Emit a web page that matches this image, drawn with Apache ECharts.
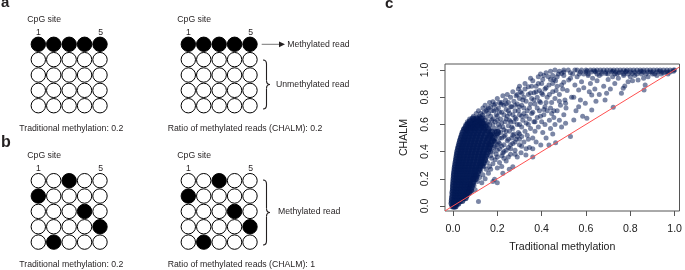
<!DOCTYPE html>
<html>
<head>
<meta charset="utf-8">
<script src="https://cdn.jsdelivr.net/npm/echarts@6/dist/echarts.min.js"></script>
<style>
html,body{margin:0;padding:0;background:#fff;}
#chalmChart{width:685px;height:270px;}
</style>
</head>
<body>
<div id="chalmChart"></div>
<script>
// rows = reads, columns = CpG sites, 1 = methylated
var readsA = [[1,1,1,1,1],[0,0,0,0,0],[0,0,0,0,0],[0,0,0,0,0],[0,0,0,0,0]];
var readsB = [[0,0,1,0,0],[1,0,0,0,0],[0,0,0,1,0],[0,0,0,0,1],[0,1,0,0,0]];
var cpgLabels = ['1','5'];
var tickValues = [0,0.2,0.4,0.6,0.8,1.0];

// dense cloud near the origin: [CHALM, [traditional methylation values]]
var coreRows = [
	[0.00,[0.000,0.005,0.010]],
	[0.02,[-0.004,0.005,0.015,0.022]],
	[0.04,[-0.003,0.008,0.018,0.030,0.040]],
	[0.06,[-0.002,0.010,0.022,0.034,0.046,0.055]],
	[0.08,[0.000,0.012,0.024,0.036,0.048,0.060]],
	[0.10,[0.000,0.012,0.025,0.038,0.050,0.062,0.072]],
	[0.12,[0.002,0.014,0.027,0.040,0.053,0.066,0.078]],
	[0.14,[0.002,0.015,0.028,0.041,0.055,0.068,0.082]],
	[0.16,[0.003,0.016,0.030,0.043,0.057,0.071,0.086]],
	[0.18,[0.004,0.017,0.031,0.045,0.059,0.074,0.090]],
	[0.20,[0.005,0.018,0.032,0.046,0.061,0.076,0.092,0.100]],
	[0.22,[0.006,0.019,0.033,0.048,0.063,0.078,0.094,0.104]],
	[0.24,[0.007,0.020,0.035,0.050,0.065,0.080,0.096,0.110]],
	[0.26,[0.009,0.022,0.037,0.052,0.067,0.083,0.099,0.114]],
	[0.28,[0.010,0.024,0.039,0.054,0.070,0.086,0.102,0.118]],
	[0.30,[0.012,0.026,0.041,0.056,0.072,0.088,0.105,0.122,0.130]],
	[0.32,[0.014,0.028,0.043,0.059,0.075,0.091,0.108,0.125,0.136]],
	[0.34,[0.016,0.030,0.045,0.061,0.077,0.094,0.111,0.128,0.142]],
	[0.36,[0.018,0.032,0.048,0.064,0.080,0.097,0.114,0.131,0.146]],
	[0.38,[0.020,0.035,0.051,0.067,0.083,0.100,0.117,0.134,0.150]],
	[0.40,[0.022,0.037,0.053,0.069,0.086,0.103,0.120,0.138,0.156]],
	[0.42,[0.025,0.040,0.056,0.072,0.089,0.106,0.124,0.142,0.160]],
	[0.44,[0.028,0.043,0.059,0.075,0.092,0.110,0.128,0.146,0.165]],
	[0.46,[0.031,0.046,0.062,0.079,0.096,0.113,0.131,0.150,0.170]],
	[0.48,[0.034,0.049,0.065,0.082,0.099,0.117,0.135,0.155,0.178]],
	[0.50,[0.038,0.053,0.069,0.086,0.103,0.121,0.140,0.160,0.185]],
	[0.52,[0.042,0.057,0.073,0.090,0.107,0.125,0.145,0.168]],
	[0.54,[0.046,0.062,0.078,0.095,0.112,0.130,0.150,0.175,0.200]],
	[0.56,[0.052,0.068,0.084,0.101,0.118,0.137,0.158]],
	[0.58,[0.060,0.076,0.092,0.109,0.126,0.145]],
	[0.60,[0.068,0.085,0.101,0.118,0.136]],
	[0.62,[0.078,0.095,0.112,0.130]],
	[0.64,[0.090,0.108,0.125]]
];

// sparser points, [traditional methylation, CHALM]
var lowReads = [
	[0.06,0.07],[0.065,0.10],[0.07,0.09],[0.075,0.13],[0.08,0.16],[0.085,0.11],[0.09,0.20],[0.095,0.15],
	[0.10,0.12],[0.105,0.23],[0.11,0.18],[0.115,0.032],[0.12,0.21],[0.125,0.26],[0.13,0.17],[0.135,0.23],
	[0.14,0.29],[0.145,0.20],[0.15,0.27],[0.155,0.32],[0.16,0.24],[0.165,0.29],[0.17,0.27],[0.1875,0.196],
	[0.20,0.17],[0.16,0.50],[0.17,0.45],[0.175,0.53],[0.18,0.40],[0.185,0.48],[0.19,0.44],[0.195,0.52],
	[0.20,0.36],[0.205,0.47],[0.21,0.42],[0.215,0.54],[0.22,0.50],[0.225,0.39],[0.23,0.45],[0.235,0.52],
	[0.24,0.33],[0.245,0.48],[0.25,0.43],[0.255,0.55],[0.26,0.38],[0.265,0.50],[0.27,0.46],[0.275,0.53],
	[0.28,0.41],[0.285,0.49],[0.29,0.36],[0.295,0.54],[0.30,0.45],[0.307,0.392],[0.31,0.51],[0.17,0.37],
	[0.18,0.31],[0.19,0.34],[0.20,0.28],[0.21,0.32],[0.22,0.29],[0.225,0.24],[0.23,0.35],[0.24,0.41],
	[0.27,0.289],[0.165,0.42],[0.175,0.35],[0.185,0.43],[0.195,0.38],[0.205,0.55],[0.20,0.45],[0.21,0.50],
	[0.18,0.18],[0.254,0.27],[0.36,0.36],[0.463,0.465],[0.53,0.51],[0.723,0.726],[0.862,0.853],
	[0.16,0.46],[0.17,0.52],[0.18,0.50],[0.19,0.47],[0.20,0.53],[0.21,0.46],[0.22,0.44],[0.23,0.51],
	[0.24,0.55],[0.25,0.49],[0.26,0.45],[0.27,0.52],[0.28,0.47],[0.29,0.51],[0.30,0.49],[0.16,0.55],
	[0.17,0.40],[0.19,0.57],[0.20,0.41],[0.22,0.37],[0.23,0.40],[0.25,0.36],[0.26,0.42],[0.28,0.38]
];
var midReads = [
	[0.05,0.57],[0.058,0.60],[0.065,0.62],[0.07,0.58],[0.075,0.64],[0.083,0.571],[0.088,0.63],[0.092,0.66],
	[0.10,0.61],[0.105,0.68],[0.11,0.64],[0.115,0.70],[0.12,0.66],[0.125,0.62],[0.133,0.669],[0.135,0.72],
	[0.14,0.69],[0.145,0.74],[0.15,0.65],[0.155,0.71],[0.16,0.68],[0.165,0.76],[0.17,0.73],[0.175,0.63],
	[0.18,0.767],[0.185,0.70],[0.19,0.75],[0.195,0.67],[0.20,0.79],[0.205,0.72],[0.21,0.76],[0.217,0.748],
	[0.22,0.69],[0.225,0.81],[0.23,0.74],[0.237,0.78],[0.24,0.71],[0.245,0.82],[0.25,0.76],[0.255,0.68],
	[0.26,0.80],[0.265,0.73],[0.27,0.84],[0.275,0.77],[0.28,0.70],[0.285,0.81],[0.29,0.75],[0.295,0.86],
	[0.30,0.79],[0.12,0.60],[0.13,0.58],[0.14,0.61],[0.15,0.59],[0.16,0.62],[0.17,0.57],[0.18,0.60],
	[0.19,0.55],[0.20,0.63],[0.21,0.58],[0.22,0.61],[0.23,0.56],[0.24,0.64],[0.25,0.59],[0.26,0.62],
	[0.27,0.57],[0.28,0.65],[0.29,0.60],[0.30,0.67],[0.31,0.58],[0.315,0.63],[0.32,0.47],[0.325,0.55],
	[0.329,0.375],[0.33,0.66],[0.335,0.52],[0.34,0.60],[0.345,0.43],[0.35,0.57],[0.355,0.68],[0.36,0.50],
	[0.365,0.62],[0.37,0.55],[0.375,0.47],[0.38,0.65],[0.385,0.58],[0.39,0.70],[0.396,0.449],[0.40,0.62],
	[0.405,0.54],[0.41,0.67],[0.415,0.60],[0.42,0.50],[0.425,0.70],[0.433,0.449],[0.435,0.63],[0.44,0.57],
	[0.445,0.68],[0.45,0.53],[0.455,0.65],[0.46,0.60],[0.47,0.70],[0.48,0.63],[0.49,0.58],[0.50,0.67],
	[0.508,0.608],[0.51,0.72],[0.30,0.53],[0.30,0.60],[0.31,0.44],[0.32,0.68],[0.33,0.42],[0.34,0.49],
	[0.36,0.42],
	[0.08,0.60],[0.09,0.58],[0.095,0.64],[0.10,0.57],[0.105,0.62],[0.11,0.59],[0.115,0.65],[0.12,0.63],
	[0.125,0.68],[0.13,0.61],[0.135,0.65],[0.14,0.57],[0.145,0.63],[0.15,0.70],[0.155,0.60],[0.06,0.56],
	[0.07,0.61],[0.16,0.72],[0.165,0.60],[0.17,0.66],[0.175,0.70],[0.18,0.64],[0.185,0.74],[0.19,0.62],
	[0.195,0.71],[0.20,0.66],[0.205,0.60],[0.21,0.69],[0.215,0.64],[0.22,0.76],[0.225,0.58],[0.23,0.67],
	[0.235,0.62],[0.24,0.75],[0.245,0.66],[0.25,0.70],[0.255,0.63],[0.26,0.73],[0.265,0.58],[0.27,0.67],
	[0.275,0.62],[0.28,0.74],[0.285,0.64],[0.29,0.82],[0.295,0.70],[0.30,0.73],[0.305,0.84],[0.31,0.66],
	[0.315,0.78],[0.32,0.72],[0.325,0.86],[0.33,0.61],[0.335,0.70],[0.34,0.82],[0.345,0.64],[0.35,0.75]
];
var highReads = [
	[0.30,0.88],[0.31,0.74],[0.311,0.829],[0.32,0.80],[0.325,0.90],[0.33,0.77],[0.34,0.877],[0.345,0.72],
	[0.35,0.83],[0.355,0.79],[0.36,0.92],[0.366,0.833],[0.37,0.75],[0.375,0.88],[0.38,0.80],[0.385,0.95],
	[0.39,0.85],[0.395,0.76],[0.40,0.90],[0.405,0.82],[0.41,0.96],[0.415,0.73],[0.42,0.87],[0.425,0.80],
	[0.433,0.89],[0.44,0.93],[0.445,0.76],[0.45,0.84],[0.455,0.93],[0.46,0.79],[0.463,0.92],[0.47,0.88],
	[0.475,0.97],[0.48,0.82],[0.485,0.74],[0.49,0.975],[0.495,0.86],[0.50,0.91],[0.505,0.78],[0.35,0.94],
	[0.395,0.97],[0.42,0.98],[0.44,0.99],[0.46,1.00],[0.508,0.755],[0.515,0.85],[0.522,0.926],[0.53,0.94],
	[0.535,0.80],[0.545,0.632],[0.545,0.80],[0.55,0.89],[0.555,0.70],[0.56,0.95],[0.567,0.853],[0.567,0.73],
	[0.575,0.78],[0.58,0.914],[0.585,0.66],[0.59,0.87],[0.597,0.755],[0.604,0.645],[0.61,0.96],[0.615,0.84],
	[0.62,0.90],[0.626,0.706],[0.626,0.816],[0.63,0.94],[0.64,0.86],[0.645,0.77],[0.65,0.92],[0.66,0.82],
	[0.67,0.97],[0.68,0.88],[0.686,0.78],[0.693,0.829],[0.70,0.93],[0.71,0.86],[0.72,0.95],[0.73,0.90],
	[0.746,0.939],[0.76,0.829],[0.768,0.865],[0.775,0.882],[0.79,0.914],[0.80,0.95],[0.81,0.92],[0.82,0.96],
	[0.835,0.926],[0.85,0.97],[0.867,0.89],[0.88,0.95],[0.90,0.97],[0.92,0.96],[0.95,0.98],[0.74,0.97],
	[0.77,0.96],[0.86,0.94],
	[0.355,0.88],[0.36,0.69],[0.365,0.78],[0.37,0.62],[0.375,0.84],[0.38,0.72],[0.385,0.90],[0.39,0.77],
	[0.395,0.66],[0.40,0.83],[0.405,0.93],[0.41,0.71],[0.415,0.86],[0.42,0.76],[0.43,0.95],[0.435,0.82],
	[0.44,0.72],[0.45,0.90],[0.455,0.70],[0.465,0.85],[0.47,0.95],[0.48,0.77],[0.49,0.89],[0.50,0.96],
	[0.45,0.96],[0.48,0.99],[0.50,1.00],[0.53,0.98],[0.55,1.00],[0.575,0.985],[0.59,0.97],[0.605,0.995],
	[0.64,0.99],[0.66,0.96],[0.69,0.975],[0.72,0.99],[0.75,0.98],[0.78,0.99],[0.81,0.975],[0.85,0.99],
	[0.89,0.985],[0.93,0.99],[0.97,0.985],[0.995,0.99]
];
// band of fully methylated reads along the top: [CHALM, [traditional methylation values]]
var topRows = [
	[1.000,[0.52,0.56,0.58,0.60,0.62,0.635,0.65,0.665,0.68,0.695,0.71,0.725,0.74,0.755,0.77,0.785,0.80,0.815,0.83,0.845,0.86,0.875,0.89,0.905,0.92,0.935,0.95,0.965,0.98,0.995,1.0]],
	[0.985,[0.50,0.60,0.625,0.645,0.67,0.69,0.715,0.735,0.76,0.78,0.80,0.82,0.84,0.86,0.88,0.90,0.92,0.94,0.96,0.98]],
	[0.970,[0.54,0.57,0.61,0.65,0.70,0.73,0.77,0.79,0.83,0.87,0.91,0.94,0.97]]
];
var diagLine = [[-0.036,-0.036],[1.022,1.022]];

function rowsToPoints(rows){
	var pts = [];
	for (var i = 0; i < rows.length; i++) {
		for (var j = 0; j < rows[i][1].length; j++) {
			pts.push([rows[i][1][j], rows[i][0]]);
		}
	}
	return pts;
}

function readsToCircles(reads){
	var out = [];
	for (var r = 0; r < reads.length; r++) {
		for (var c = 0; c < reads[r].length; c++) {
			out.push({value:[c + 1, r + 1], itemStyle:{color: reads[r][c] ? '#000' : '#fff'}});
		}
	}
	return out;
}

var txtFont = '8.7px "Liberation Sans", Arial, sans-serif';
var ink = '#231f20';

function label(text, x, y, align, font){
	return {type:'text', x:x, y:y, style:{text:text, font:font || txtFont, fill:ink, align:align || 'left', verticalAlign:'middle'}};
}

// curly brace "}" from y1 to y2
function brace(x, y1, y2){
	var m = (y1 + y2) / 2, s = {stroke:ink, lineWidth:1.1, fill:'none'};
	return [
		{type:'bezierCurve', shape:{x1:x, y1:y1, x2:x+3.5, y2:y1+4, cpx1:x+3.5, cpy1:y1}, style:s},
		{type:'line', shape:{x1:x+3.5, y1:y1+4, x2:x+3.5, y2:m-4}, style:s},
		{type:'bezierCurve', shape:{x1:x+3.5, y1:m-4, x2:x+7, y2:m, cpx1:x+3.5, cpy1:m}, style:s},
		{type:'bezierCurve', shape:{x1:x+7, y1:m, x2:x+3.5, y2:m+4, cpx1:x+3.5, cpy1:m}, style:s},
		{type:'line', shape:{x1:x+3.5, y1:m+4, x2:x+3.5, y2:y2-4}, style:s},
		{type:'bezierCurve', shape:{x1:x+3.5, y1:y2-4, x2:x, y2:y2, cpx1:x+3.5, cpy1:y2}, style:s}
	];
}

var boxes = [
	{left:30.6, top:36.6, reads:readsA},
	{left:180.6, top:36.6, reads:readsA},
	{left:30.6, top:173, reads:readsB},
	{left:180.6, top:173, reads:readsB}
];

var grids = [], xAxes = [], yAxes = [], series = [];
for (var i = 0; i < boxes.length; i++) {
	grids.push({left:boxes[i].left, top:boxes[i].top, width:77.1, height:76.8});
	xAxes.push({gridIndex:i, type:'value', min:0.5, max:5.5, show:false});
	yAxes.push({gridIndex:i, type:'value', min:0.5, max:5.5, inverse:true, show:false});
	series.push({
		type:'scatter', xAxisIndex:i, yAxisIndex:i,
		symbol:'circle', symbolSize:14.4,
		itemStyle:{borderColor:'#000', borderWidth:1, opacity:1},
		data: readsToCircles(boxes[i].reads)
	});
}

// panel c
grids.push({left:445, top:64, width:237, height:147, show:true, borderColor:'#555', borderWidth:1, backgroundColor:'transparent'});
var axisText = {color:'#222', fontSize:10.6, fontFamily:'"Liberation Sans", Arial, sans-serif'};
xAxes.push({
	gridIndex:4, type:'value', min:-0.036, max:1.022,
	name:'Traditional methylation', nameLocation:'middle', nameGap:31, nameTextStyle:axisText,
	axisLine:{show:false, onZero:false},
	axisTick:{show:true, length:5, customValues:tickValues, lineStyle:{color:'#555'}},
	axisLabel:Object.assign({customValues:tickValues, margin:13, formatter:function(v){return v.toFixed(1);}}, axisText),
	splitLine:{show:false}
});
yAxes.push({
	gridIndex:4, type:'value', min:-0.037, max:1.044,
	name:'CHALM', nameLocation:'middle', nameGap:35, nameTextStyle:axisText,
	axisLine:{show:false, onZero:false},
	axisTick:{show:true, length:5, customValues:tickValues, lineStyle:{color:'#555'}},
	axisLabel:Object.assign({customValues:tickValues, margin:14, rotate:90, formatter:function(v){return v.toFixed(1);}}, axisText),
	splitLine:{show:false}
});
var dotStyle = {color:'rgba(4,24,84,0.66)'};
// core cloud: thousands of overlapping reads render as a solid mass
series.push({type:'scatter', xAxisIndex:4, yAxisIndex:4, symbolSize:7, itemStyle:{color:'rgba(4,26,86,0.95)'}, data:rowsToPoints(coreRows)});
var clouds = [lowReads, midReads, highReads, rowsToPoints(topRows)];
for (var k = 0; k < clouds.length; k++) {
	series.push({type:'scatter', xAxisIndex:4, yAxisIndex:4, symbolSize:5, itemStyle:dotStyle, data:clouds[k]});
}
series.push({
	type:'line', xAxisIndex:4, yAxisIndex:4, data:diagLine, symbol:'none',
	lineStyle:{color:'#ff5050', width:1}, silent:true
});

var graphics = [
	label('a', 1, 3.1, 'left', 'bold 15px "Liberation Sans", Arial, sans-serif'),
	label('b', 1, 142.8, 'left', 'bold 16px "Liberation Sans", Arial, sans-serif'),
	label('c', 385, 4.1, 'left', 'bold 15px "Liberation Sans", Arial, sans-serif'),
	label('Methylated read', 287.3, 44.8),
	label('Unmethylated read', 276, 85),
	label('Methylated read', 278, 212),
	{type:'line', shape:{x1:261.7, y1:44.3, x2:280, y2:44.3}, style:{stroke:'#777', lineWidth:1}},
	{type:'polygon', shape:{points:[[279,41.4],[285,44.3],[279,47.2]]}, style:{fill:ink}}
].concat(brace(263, 60, 109), brace(263, 180, 245));

// headers and captions of the four read boxes
for (var b = 0; b < boxes.length; b++) {
	var gx = boxes[b].left, gy = boxes[b].top;
	graphics.push(label('CpG site', gx - 3.3, gy - 17.3));
	graphics.push(label(cpgLabels[0], gx + 7.7, gy - 4.3, 'center'));
	graphics.push(label(cpgLabels[1], gx + 70, gy - 4.3, 'center'));
	var cap = b % 2 === 0 ? 'Traditional methylation: 0.2' : (b === 1 ? 'Ratio of methylated reads (CHALM): 0.2' : 'Ratio of methylated reads (CHALM): 1');
	graphics.push(label(cap, b % 2 === 0 ? gx - 11.3 : gx - 12.9, gy + 91.7));
}

var charts = echarts.init(document.getElementById('chalmChart'), null, {renderer:'canvas'});
var option = {
	backgroundColor:'#fff',
	animation:false,
	grid:grids,
	xAxis:xAxes,
	yAxis:yAxes,
	series:series,
	graphic:graphics
};
charts.setOption(option);
</script>
</body>
</html>
